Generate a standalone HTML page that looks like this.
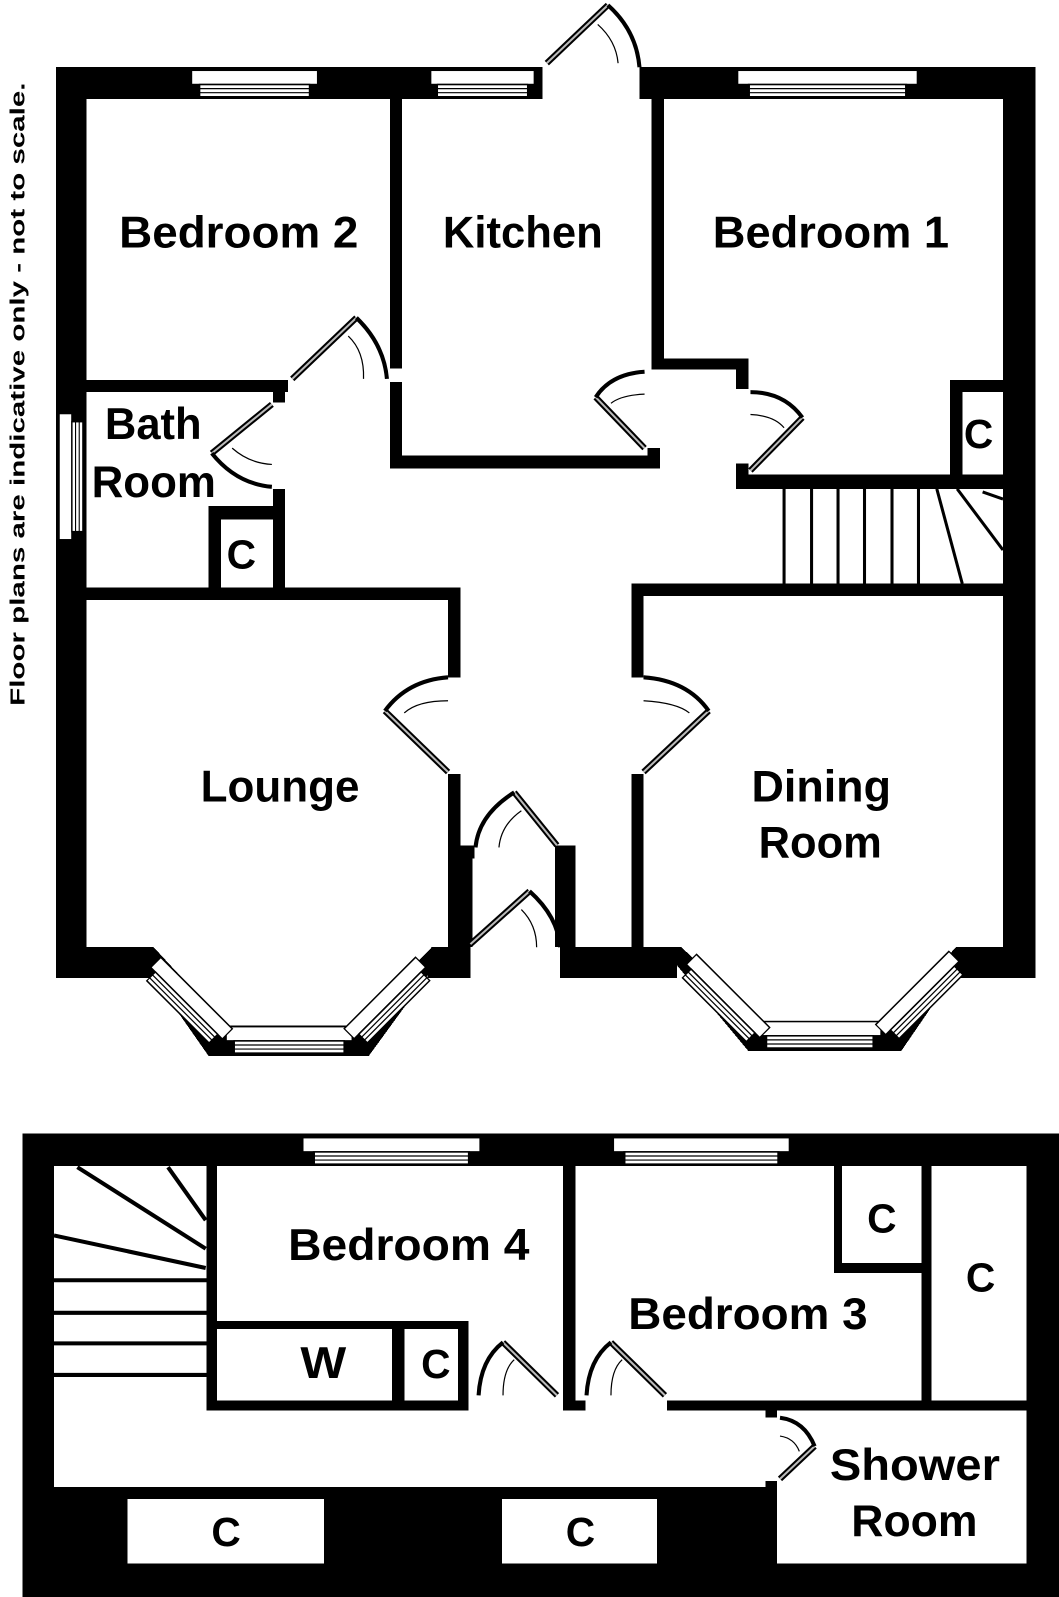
<!DOCTYPE html>
<html><head><meta charset="utf-8"><style>
html,body{margin:0;padding:0;background:#fff;width:1059px;height:1597px;overflow:hidden}
svg{display:block}
text{font-family:"Liberation Sans",sans-serif;font-weight:bold;fill:#000}
</style></head><body>
<svg width="1059" height="1597" viewBox="0 0 1040 1568" preserveAspectRatio="none" xmlns="http://www.w3.org/2000/svg" shape-rendering="crispEdges">
<defs>
<g id="winH"><rect x="0" y="0" width="124" height="14" fill="#fff" stroke="#000" stroke-width="1.5"/><rect x="8" y="14" width="108" height="12" fill="#fff" stroke="#000" stroke-width="1.5"/><line x1="8" y1="18" x2="116" y2="18" stroke="#000" stroke-width="1.2"/><line x1="8" y1="22" x2="116" y2="22" stroke="#000" stroke-width="1.2"/></g>
</defs>
<!-- UPPER PLAN walls -->
<g fill="#000">
<rect x="55" y="66" width="478" height="31"/>
<rect x="628" y="66" width="389" height="31"/>
<rect x="55" y="66" width="30" height="894"/>
<rect x="985" y="66" width="32" height="894"/>
<rect x="55" y="930" width="95" height="30"/>
<polygon points="130,930 205,1037 362,1037 440,930"/>
<rect x="420" y="930" width="42" height="30"/>
<rect x="550" y="930" width="115" height="30"/>
<polygon points="650,930 735,1032 885,1032 955,930"/>
<rect x="940" y="930" width="77" height="30"/>
<rect x="383" y="97" width="12" height="265"/>
<rect x="383" y="375" width="12" height="85"/>
<rect x="383" y="447" width="265" height="13"/>
<rect x="640" y="97" width="12" height="266"/>
<rect x="640" y="352" width="95" height="11"/>
<rect x="723" y="352" width="12" height="30"/>
<rect x="636" y="440" width="12" height="20"/>
<rect x="723" y="455" width="12" height="25"/>
<rect x="723" y="466" width="262" height="14"/>
<rect x="933" y="373" width="12" height="100"/>
<rect x="933" y="373" width="52" height="12"/>
<rect x="85" y="373" width="198" height="12"/>
<rect x="268" y="373" width="12" height="22"/>
<rect x="268" y="480" width="12" height="97"/>
<rect x="205" y="497" width="75" height="13"/>
<rect x="205" y="497" width="12" height="80"/>
<rect x="85" y="577" width="367" height="12"/>
<rect x="440" y="577" width="12" height="88"/>
<rect x="440" y="760" width="12" height="170"/>
<rect x="440" y="830" width="26" height="13"/>
<rect x="452" y="830" width="12" height="100"/>
<rect x="545" y="830" width="20" height="100"/>
<rect x="550" y="830" width="15" height="130"/>
<rect x="620" y="573" width="365" height="12"/>
<rect x="620" y="573" width="12" height="92"/>
<rect x="620" y="760" width="12" height="170"/>
</g>
<polygon points="150,929 222,1007 350,1007 425,929" fill="#fff"/>
<polygon points="668,929 748,1003 868,1003 940,929" fill="#fff"/>
<rect x="85" y="900" width="355" height="30" fill="#fff"/>
<rect x="632" y="900" width="353" height="30" fill="#fff"/>
<rect x="85" y="589" width="355" height="320" fill="#fff"/>
<g stroke="#000" stroke-width="3" shape-rendering="auto">
<line x1="770" y1="480" x2="770" y2="573"/><line x1="797" y1="480" x2="797" y2="573"/><line x1="823" y1="480" x2="823" y2="573"/><line x1="849" y1="480" x2="849" y2="573"/><line x1="876" y1="480" x2="876" y2="573"/><line x1="902" y1="480" x2="902" y2="573"/>
<line x1="920" y1="480" x2="945" y2="573"/><line x1="940" y1="480" x2="985" y2="540"/><line x1="965" y1="483" x2="985" y2="490"/>
</g>
<g shape-rendering="auto">
<use href="#winH" transform="translate(188,69)"/>
<use href="#winH" transform="translate(423,69) scale(0.82,1)"/>
<use href="#winH" transform="translate(724,69) scale(1.43,1)"/>
<use href="#winH" transform="translate(58,530) rotate(-90) scale(1,0.9)"/>
<use href="#winH" transform="translate(222,1008)"/>
<use href="#winH" transform="translate(745,1003) scale(0.97,1)"/>
<use href="#winH" transform="translate(158,940) rotate(45) scale(0.8,1)"/>
<use href="#winH" transform="translate(338,1010) rotate(-45) scale(0.8,1)"/>
<use href="#winH" transform="translate(684,937) rotate(45) scale(0.82,1)"/>
<use href="#winH" transform="translate(860,1006) rotate(-45) scale(0.82,1)"/>
</g>
<g fill="none" shape-rendering="auto">
<g stroke="#000" stroke-width="6"><line x1="537" y1="62" x2="597" y2="5"/><line x1="287" y1="372" x2="350" y2="312"/><line x1="267" y1="397" x2="208" y2="445"/><line x1="633" y1="440" x2="585" y2="390"/><line x1="737" y1="462" x2="788" y2="410"/><line x1="440" y1="758" x2="378" y2="698"/><line x1="632" y1="758" x2="696" y2="698"/><line x1="505" y1="778" x2="547" y2="830"/><line x1="520" y1="875" x2="462" y2="927"/></g>
<g stroke="#bbb" stroke-width="2"><line x1="537" y1="62" x2="597" y2="5"/><line x1="287" y1="372" x2="350" y2="312"/><line x1="267" y1="397" x2="208" y2="445"/><line x1="633" y1="440" x2="585" y2="390"/><line x1="737" y1="462" x2="788" y2="410"/><line x1="440" y1="758" x2="378" y2="698"/><line x1="632" y1="758" x2="696" y2="698"/><line x1="505" y1="778" x2="547" y2="830"/><line x1="520" y1="875" x2="462" y2="927"/></g>
<g stroke="#000" stroke-width="4"><path d="M597,5 Q625,30 628,66"/><path d="M350,312 Q377,338 380,372"/><path d="M208,445 Q232,475 267,478"/><path d="M585,390 Q600,367 633,365"/><path d="M788,410 Q770,385 737,385"/><path d="M378,698 Q400,668 440,665"/><path d="M696,698 Q675,668 632,665"/><path d="M505,778 Q470,800 467,832"/><path d="M520,875 Q548,900 550,930"/></g>
<g stroke="#000" stroke-width="1.2"><path d="M587,24 Q605,40 607,62"/><path d="M342,330 Q358,345 357,372"/><path d="M228,440 Q245,455 267,456"/><path d="M600,396 Q610,388 633,387"/><path d="M770,420 Q760,408 737,407"/><path d="M397,700 Q410,688 440,688"/><path d="M677,700 Q665,690 632,688"/><path d="M512,796 Q492,810 490,832"/><path d="M512,893 Q527,908 527,930"/></g>
</g>
<!-- LOWER PLAN -->
<rect x="22" y="1113" width="1018" height="455" fill="#000"/>
<g fill="#fff">
<rect x="53" y="1145" width="150" height="242"/>
<rect x="213" y="1145" width="340" height="152"/>
<rect x="460" y="1290" width="93" height="97"/>
<rect x="213" y="1305" width="172" height="70"/>
<rect x="397" y="1305" width="53" height="70"/>
<rect x="565" y="1145" width="254" height="230"/>
<rect x="815" y="1250" width="90" height="125"/>
<rect x="827" y="1145" width="78" height="95"/>
<rect x="915" y="1145" width="93" height="230"/>
<rect x="53" y="1385" width="699" height="75"/>
<rect x="470" y="1370" width="80" height="20"/>
<rect x="575" y="1370" width="80" height="20"/>
<rect x="763" y="1385" width="245" height="150"/>
<rect x="750" y="1392" width="15" height="62"/>
<rect x="125" y="1472" width="193" height="63"/>
<rect x="493" y="1472" width="152" height="63"/>
</g>
<g stroke="#000" stroke-width="4" shape-rendering="auto">
<line x1="76" y1="1146" x2="202" y2="1226"/><line x1="165" y1="1146" x2="202" y2="1198"/><line x1="53" y1="1213" x2="202" y2="1245"/>
<line x1="53" y1="1257" x2="203" y2="1257"/><line x1="53" y1="1289" x2="203" y2="1289"/><line x1="53" y1="1319" x2="203" y2="1319"/><line x1="53" y1="1350" x2="203" y2="1350"/>
</g>
<g shape-rendering="auto">
<use href="#winH" transform="translate(297,1117) scale(1.41,1)"/>
<use href="#winH" transform="translate(602,1117) scale(1.4,1)"/>
</g>
<g fill="none" shape-rendering="auto">
<g stroke="#000" stroke-width="6"><line x1="494" y1="1318" x2="547" y2="1370"/><line x1="600" y1="1318" x2="653" y2="1370"/><line x1="766" y1="1452" x2="800" y2="1420"/></g>
<g stroke="#bbb" stroke-width="2"><line x1="494" y1="1318" x2="547" y2="1370"/><line x1="600" y1="1318" x2="653" y2="1370"/><line x1="766" y1="1452" x2="800" y2="1420"/></g>
<g stroke="#000" stroke-width="4"><path d="M494,1318 Q472,1335 470,1370"/><path d="M600,1318 Q578,1335 576,1370"/><path d="M800,1420 Q790,1395 766,1392"/></g>
<g stroke="#000" stroke-width="1.2"><path d="M505,1335 Q494,1345 494,1370"/><path d="M611,1335 Q600,1345 600,1370"/><path d="M785,1425 Q780,1412 766,1410"/></g>
</g>
<g font-size="44">
<text x="117" y="243" textLength="235" lengthAdjust="spacingAndGlyphs">Bedroom 2</text>
<text x="435" y="243" textLength="157" lengthAdjust="spacingAndGlyphs">Kitchen</text>
<text x="700" y="243" textLength="232" lengthAdjust="spacingAndGlyphs">Bedroom 1</text>
<text x="103" y="431" textLength="95" lengthAdjust="spacingAndGlyphs">Bath</text>
<text x="90" y="488" textLength="122" lengthAdjust="spacingAndGlyphs">Room</text>
<text x="197" y="787" textLength="156" lengthAdjust="spacingAndGlyphs">Lounge</text>
<text x="738" y="787" textLength="137" lengthAdjust="spacingAndGlyphs">Dining</text>
<text x="745" y="842" textLength="121" lengthAdjust="spacingAndGlyphs">Room</text>
<text x="283" y="1237" textLength="237" lengthAdjust="spacingAndGlyphs">Bedroom 4</text>
<text x="617" y="1305" textLength="235" lengthAdjust="spacingAndGlyphs">Bedroom 3</text>
<text x="815" y="1453" textLength="167" lengthAdjust="spacingAndGlyphs">Shower</text>
<text x="836" y="1508" textLength="124" lengthAdjust="spacingAndGlyphs">Room</text>
<text x="295" y="1353" textLength="45" lengthAdjust="spacingAndGlyphs">W</text>
</g>
<g font-size="40" text-anchor="middle">
<text x="237" y="558">C</text>
<text x="961" y="440">C</text>
<text x="428" y="1353">C</text>
<text x="866" y="1210">C</text>
<text x="963" y="1268">C</text>
<text x="222" y="1518">C</text>
<text x="570" y="1518">C</text>
</g>
<text transform="translate(24,693) rotate(-90)" font-size="20" textLength="612" lengthAdjust="spacingAndGlyphs">Floor plans are indicative only - not to scale.</text>
</svg>
</body></html>
